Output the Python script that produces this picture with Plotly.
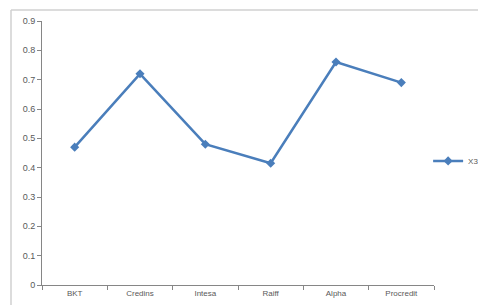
import plotly.graph_objects as go

categories = ["BKT", "Credins", "Intesa", "Raiff", "Alpha", "Procredit"]
x3_values = [0.47, 0.72, 0.48, 0.415, 0.76, 0.69]
y_ticks = [0, 0.1, 0.2, 0.3, 0.4, 0.5, 0.6, 0.7, 0.8, 0.9]
y_tick_labels = ["0", "0.1", "0.2", "0.3", "0.4", "0.5", "0.6", "0.7", "0.8", "0.9"]

# page has an 8px body margin; figure sized to fit the window
W, H = 478, 297
L, R, T, B = 34, 52, 13, 20
PW, PH = W - L - R, H - T - B

fig = go.Figure()
fig.add_trace(go.Scatter(
    x=categories, y=x3_values, name="X3", mode="lines+markers",
    line=dict(color="#4a7ebb", width=2.5),
    marker=dict(symbol="diamond", size=7, color="#4a7ebb"),
))

fig.update_layout(
    width=W, height=H,
    margin=dict(l=L, r=R, t=T, b=B, autoexpand=False),
    paper_bgcolor="white", plot_bgcolor="white",
    font=dict(family="Liberation Sans, Arial, sans-serif", size=9, color="#595959"),
    showlegend=True,
    legend=dict(x=0.985, y=0.47, xanchor="left", yanchor="middle",
                bgcolor="rgba(0,0,0,0)", font=dict(size=8, color="#595959"),
                itemwidth=30),
    xaxis=dict(
        type="category", range=[-0.5, 5.5],
        showline=True, linecolor="#868686", linewidth=1,
        ticks="outside", ticklen=4, tickcolor="#868686",
        tickson="boundaries", showgrid=False, zeroline=False,
        tickfont=dict(size=8, color="#595959"),
    ),
    yaxis=dict(
        range=[0, 0.9], tickvals=y_ticks, ticktext=y_tick_labels,
        showline=True, linecolor="#868686", linewidth=1,
        ticks="outside", ticklen=4, tickcolor="#868686",
        showgrid=False, zeroline=False,
        tickfont=dict(size=9, color="#595959"),
    ),
)

# chart-area border (top and left edges visible)
bx = (3 - L) / PW
by = 1 + (T - 2) / PH
fig.add_shape(type="line", xref="paper", yref="paper",
              x0=bx, x1=(W - L) / PW, y0=by, y1=by,
              line=dict(color="#d0d0d0", width=1.5))
fig.add_shape(type="line", xref="paper", yref="paper",
              x0=bx, x1=bx, y0=by, y1=-B / PH - 0.05,
              line=dict(color="#d0d0d0", width=1.5))

fig.write_html("out.html")
